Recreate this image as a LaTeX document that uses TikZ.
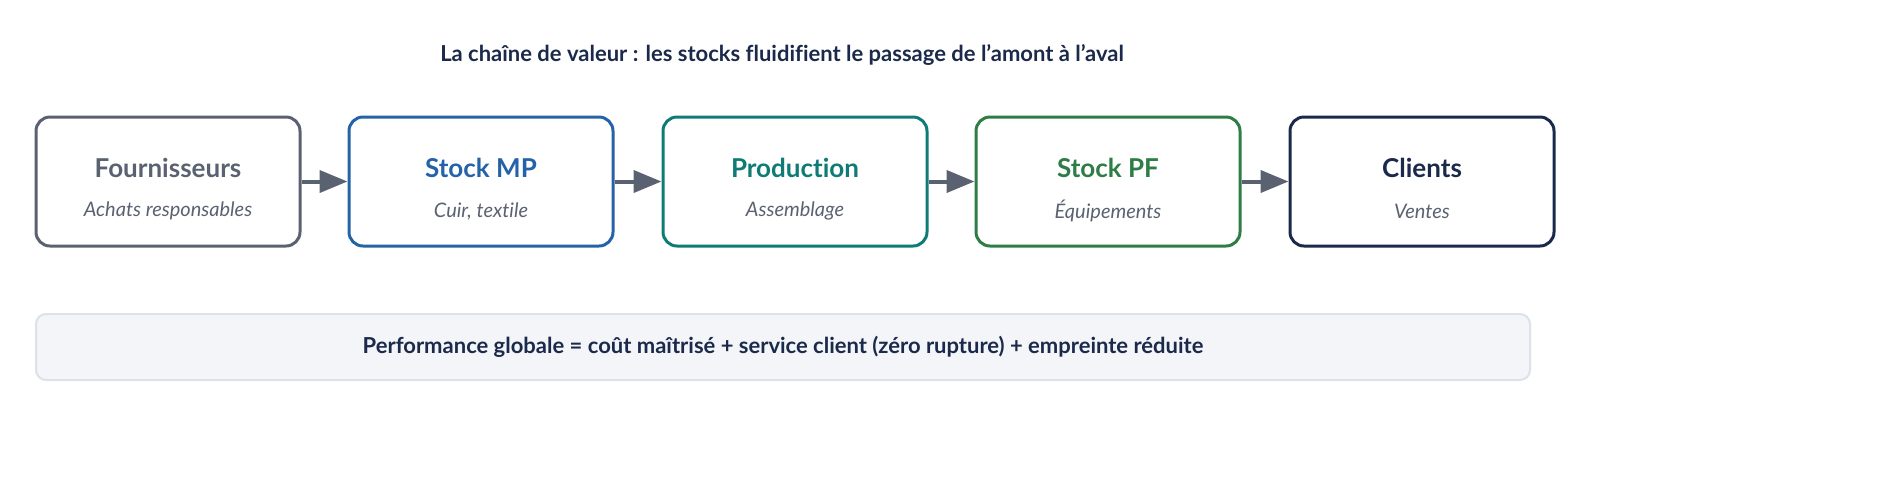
\documentclass[tikz,border=0pt]{standalone}
\usepackage{fontspec}
\setmainfont{Lato}[Ligatures={NoCommon}]
\usetikzlibrary{arrows.meta}
\definecolor{cgrey}{HTML}{5A6272}
\definecolor{cblue}{HTML}{2563A8}
\definecolor{cteal}{HTML}{0F7B76}
\definecolor{cgreen}{HTML}{2E7D46}
\definecolor{cnavy}{HTML}{1B2A4A}
\definecolor{bfill}{HTML}{F3F5F9}
\definecolor{bline}{HTML}{DDE1E8}
\begin{document}
\begin{tikzpicture}[x=0.5pt,y=-0.5pt,
  box/.style={draw=#1,line width=1.5pt,rounded corners=7pt,minimum width=132pt,minimum height=64.5pt,fill=white},
  lab/.style={font=\bfseries\fontsize{13}{15}\selectfont,text=#1},
  sub/.style={font=\itshape\fontsize{10}{12}\selectfont,text=cgrey},
  arr/.style={draw=cgrey,line width=2pt,-{Triangle[length=14pt,width=11pt]}}]
\useasboundingbox (0,0) rectangle (1880,500);
\node[font=\bfseries\fontsize{11}{13}\selectfont,text=cnavy] (title) at (782,55) {La chaîne de valeur : les stocks fluidifient le passage de l\char"0027 amont à l\char"0027 aval};
\foreach \n/\x/\c/\a/\b in {b1/168/cgrey/Fournisseurs/Achats responsables,
  b2/481/cblue/Stock MP/{Cuir, textile},
  b3/795/cteal/Production/Assemblage,
  b4/1108/cgreen/Stock PF/Équipements,
  b5/1422/cnavy/Clients/Ventes}{
  \node[box=\c] (\n) at (\x,181.5) {};
  \node[lab=\c] (\n l) at (\x,168) {\a};
  \node[sub] (\n s) at (\x,211) {\b};
}
\draw[arr] (b1.east) -- (b2.west);
\draw[arr] (b2.east) -- (b3.west);
\draw[arr] (b3.east) -- (b4.west);
\draw[arr] (b4.east) -- (b5.west);
\node[draw=bline,fill=bfill,line width=1pt,rounded corners=5pt,minimum width=747pt,minimum height=33pt,
  font=\bfseries\fontsize{11}{13}\selectfont,text=cnavy] (perf) at (783,347) {Performance globale = coût maîtrisé + service client (zéro rupture) + empreinte réduite};
\end{tikzpicture}
\end{document}
